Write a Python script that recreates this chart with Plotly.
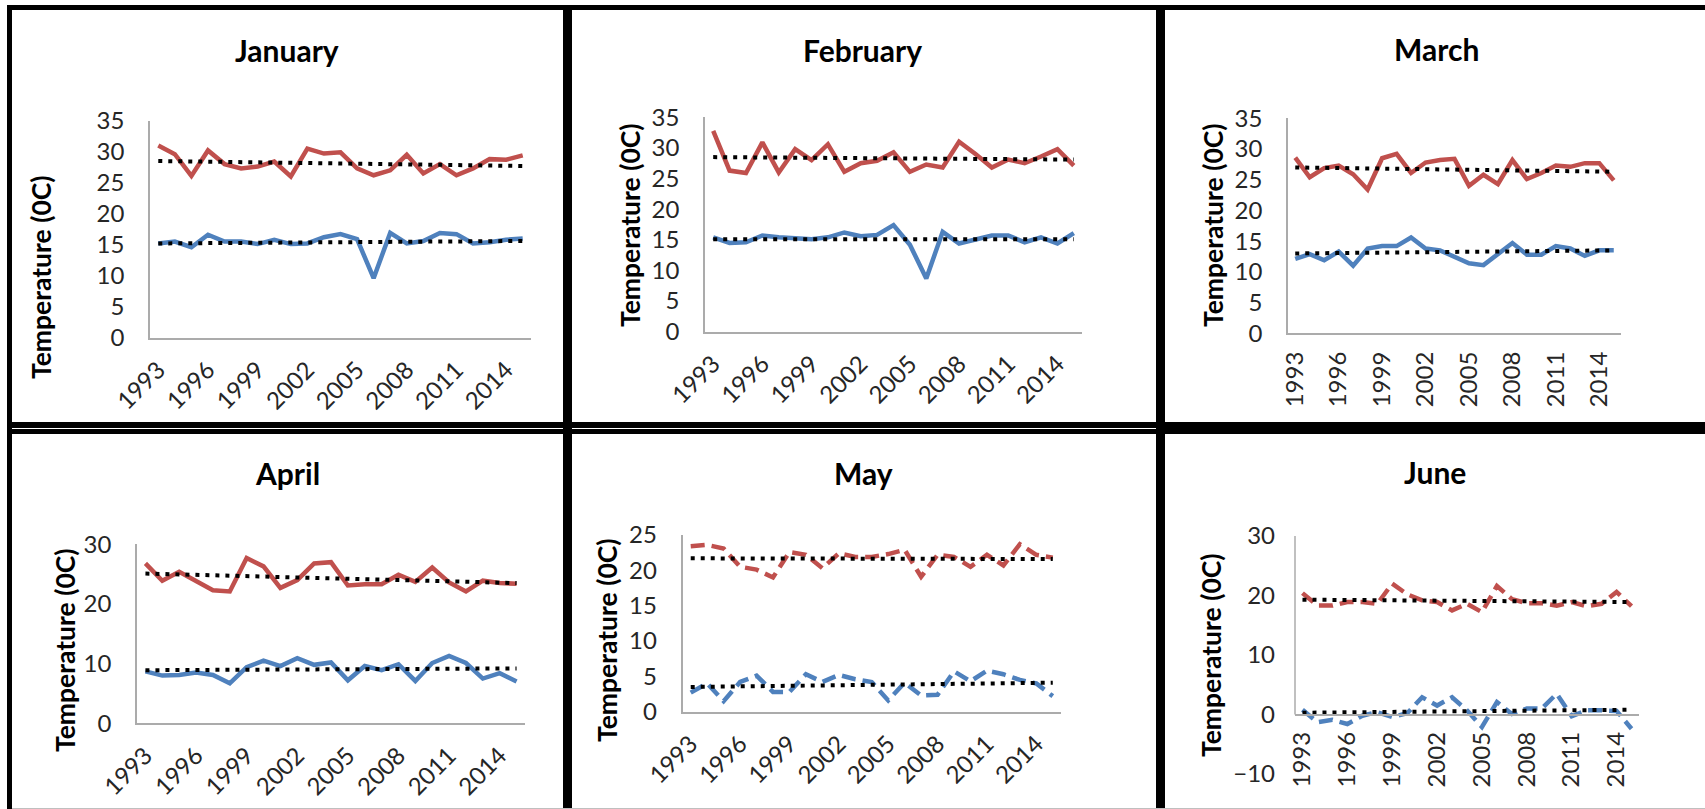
import plotly.graph_objects as go

# ---------------------------------------------------------------------------
# Monthly maximum / minimum temperature series, 1993-2015
# ---------------------------------------------------------------------------
years = ["1993", "1994", "1995", "1996", "1997", "1998", "1999", "2000",
         "2001", "2002", "2003", "2004", "2005", "2006", "2007", "2008",
         "2009", "2010", "2011", "2012", "2013", "2014", "2015"]
tick_years = ["1993", "1996", "1999", "2002", "2005", "2008", "2011", "2014"]

jan_max = [31.0, 29.6, 26.1, 30.2, 28.0, 27.3, 27.6, 28.4, 26.0, 30.5, 29.7, 29.9,
           27.3, 26.2, 27.0, 29.5, 26.5, 28.0, 26.2, 27.3, 28.8, 28.7, 29.4]
jan_min = [15.2, 15.5, 14.6, 16.6, 15.5, 15.5, 15.1, 15.8, 15.1, 15.2, 16.2, 16.7,
           15.9, 9.6, 16.9, 15.2, 15.6, 16.9, 16.7, 15.2, 15.4, 15.8, 16.0]
jan_max_trend = [28.5, 27.7]
jan_min_trend = [15.2, 15.6]

feb_max = [32.8, 26.3, 25.9, 30.9, 26.0, 29.8, 28.0, 30.6, 26.1, 27.5, 27.9, 29.3,
           26.1, 27.3, 26.8, 31.0, 29.0, 26.8, 28.1, 27.5, 28.6, 29.8, 27.1]
feb_min = [15.4, 14.5, 14.6, 15.7, 15.4, 15.2, 15.1, 15.4, 16.2, 15.6, 15.8, 17.4,
           14.2, 8.7, 16.3, 14.4, 15.0, 15.7, 15.7, 14.6, 15.4, 14.4, 16.1]
feb_max_trend = [28.5, 28.1]
feb_min_trend = [15.1, 15.1]

mar_max = [28.6, 25.4, 26.9, 27.3, 25.9, 23.4, 28.5, 29.2, 26.1, 27.8, 28.2, 28.4,
           24.0, 25.8, 24.3, 28.2, 25.1, 26.1, 27.3, 27.1, 27.7, 27.7, 24.9]
mar_min = [12.1, 12.9, 11.9, 13.3, 11.0, 13.8, 14.2, 14.2, 15.6, 13.8, 13.5, 12.5,
           11.4, 11.1, 12.8, 14.7, 12.8, 12.8, 14.2, 13.8, 12.6, 13.5, 13.5]
mar_max_trend = [27.0, 26.3]
mar_min_trend = [13.0, 13.5]

apr_max = [26.8, 23.9, 25.4, 23.9, 22.3, 22.1, 27.7, 26.3, 22.7, 24.0, 26.8, 27.0,
           23.1, 23.3, 23.3, 24.9, 23.7, 26.1, 23.6, 22.1, 23.9, 23.5, 23.4]
apr_min = [8.7, 8.0, 8.1, 8.5, 8.1, 6.7, 9.4, 10.5, 9.6, 10.9, 9.8, 10.2,
           7.2, 9.6, 8.9, 9.9, 7.1, 10.1, 11.3, 10.1, 7.5, 8.4, 7.0]
apr_max_trend = [25.1, 23.5]
apr_min_trend = [8.9, 9.2]

may_max = [23.4, 23.6, 23.1, 20.5, 20.1, 19.0, 22.6, 22.2, 20.3, 22.4, 21.9, 21.9,
           22.3, 22.9, 19.1, 22.2, 21.9, 20.5, 22.2, 20.7, 23.7, 22.2, 21.8]
may_min = [2.7, 4.0, 1.5, 4.2, 5.1, 2.8, 2.8, 5.3, 4.2, 5.2, 4.6, 4.2,
           1.6, 4.1, 2.3, 2.4, 5.7, 4.3, 5.8, 5.3, 4.5, 4.0, 2.2]
may_max_trend = [21.7, 21.6]
may_min_trend = [3.5, 4.1]

jun_max = [20.4, 18.3, 18.3, 18.9, 18.9, 18.6, 22.0, 20.2, 19.2, 18.9, 17.5, 18.6,
           17.2, 21.6, 19.4, 18.7, 18.7, 18.3, 18.9, 18.2, 18.6, 20.6, 18.2]
jun_min = [0.8, -1.3, -0.9, -1.6, -0.2, 0.4, -0.4, 0.2, 2.9, 1.5, 2.9, 0.7,
           -2.1, 2.1, 0.1, 1.0, 1.0, 3.5, -0.3, 0.7, 0.7, 0.6, -2.4]
jun_max_trend = [19.3, 18.9]
jun_min_trend = [0.3, 0.8]

# ---------------------------------------------------------------------------
# Page geometry (pixels) and styling
# ---------------------------------------------------------------------------
W, H = 1705, 809
RED = "#C0504D"
BLUE = "#4F81BD"
AXIS_GRAY = "#ABABAB"
FONT = "Lato"


def fx(px):
    return px / W


def fy(py):
    return 1 - py / H


panels = [
    dict(title="January", hi=jan_max, lo=jan_min, hi_tr=jan_max_trend, lo_tr=jan_min_trend,
         yrange=[0, 35], dtick=5, dash="solid", angle=-45,
         plot=(150, 531, 120.7, 337.7), title_at=(287, 50), ytitle_at=(41, 277)),
    dict(title="February", hi=feb_max, lo=feb_min, hi_tr=feb_max_trend, lo_tr=feb_min_trend,
         yrange=[0, 35], dtick=5, dash="solid", angle=-45,
         plot=(705, 1082, 117.3, 331.7), title_at=(863, 50), ytitle_at=(630, 225)),
    dict(title="March", hi=mar_max, lo=mar_min, hi_tr=mar_max_trend, lo_tr=mar_min_trend,
         yrange=[0, 35], dtick=5, dash="solid", angle=-90,
         plot=(1288, 1621, 118.3, 333.3), title_at=(1436, 48.5), ytitle_at=(1213, 225)),
    dict(title="April", hi=apr_max, lo=apr_min, hi_tr=apr_max_trend, lo_tr=apr_min_trend,
         yrange=[0, 30], dtick=10, dash="solid", angle=-45,
         plot=(137, 525, 544.3, 723.3), title_at=(287, 473), ytitle_at=(65, 650)),
    dict(title="May", hi=may_max, lo=may_min, hi_tr=may_max_trend, lo_tr=may_min_trend,
         yrange=[0, 25], dtick=5, dash="14px,7px", angle=-45,
         plot=(682.5, 1061, 535, 711.7), title_at=(863.5, 473), ytitle_at=(607, 640)),
    dict(title="June", hi=jun_max, lo=jun_min, hi_tr=jun_max_trend, lo_tr=jun_min_trend,
         yrange=[-10, 30], dtick=10, dash="14px,7px", angle=-90,
         plot=(1295, 1639, 536, 774), title_at=(1435, 471.5), ytitle_at=(1211, 655)),
]

fig = go.Figure()
annotations = []
shapes = []
ytick_font = dict(family=FONT, size=24, color="#262626")
xtick_font = dict(family=FONT, size=24, color="#262626")

for i, p in enumerate(panels, start=1):
    xa = "x" if i == 1 else f"x{i}"
    ya = "y" if i == 1 else f"y{i}"
    x0, x1, yt, yb = p["plot"]
    trend_x = [years[0], years[-1]]

    for vals, color in ((p["hi"], RED), (p["lo"], BLUE)):
        fig.add_trace(go.Scatter(
            x=years, y=vals, mode="lines", xaxis=xa, yaxis=ya, showlegend=False,
            line=dict(color=color, width=4.5, dash=p["dash"]),
        ))
    for tr in (p["hi_tr"], p["lo_tr"]):
        fig.add_trace(go.Scatter(
            x=trend_x, y=tr, mode="lines", xaxis=xa, yaxis=ya, showlegend=False,
            line=dict(color="black", width=4, dash="4px,6px"),
        ))

    ymin, ymax = p["yrange"]
    crosses_zero = ymin < 0
    xaxis = dict(
        domain=[fx(x0), fx(x1)], type="category", range=[-0.5, len(years) - 0.5],
        tickmode="array", tickvals=tick_years, ticktext=tick_years,
        tickangle=p["angle"], tickfont=xtick_font, ticks="", ticklabelstandoff=7,
        showline=True, linecolor=AXIS_GRAY, linewidth=1.5, showgrid=False,
        zeroline=False, fixedrange=True, automargin=False,
    )
    if crosses_zero:
        zero_px = yb - (0 - ymin) / (ymax - ymin) * (yb - yt)
        xaxis.update(anchor="free", position=fy(zero_px))
    else:
        xaxis.update(anchor=ya)
    yaxis = dict(
        domain=[fy(yb), fy(yt)], range=p["yrange"], dtick=p["dtick"],
        tickfont=ytick_font, ticks="", ticklabelstandoff=19, anchor=xa,
        showline=not crosses_zero, linecolor=AXIS_GRAY, linewidth=1.5,
        showgrid=False, zeroline=False, fixedrange=True, automargin=False,
    )
    fig.update_layout({("xaxis" if i == 1 else f"xaxis{i}"): xaxis,
                       ("yaxis" if i == 1 else f"yaxis{i}"): yaxis})
    if crosses_zero:
        # value axis drawn only over the non-negative part
        shapes.append(dict(type="line", xref=f"{xa} domain", x0=0, x1=0,
                           yref=ya, y0=0, y1=ymax,
                           line=dict(color=AXIS_GRAY, width=1.5)))

    annotations.append(dict(
        text=f"<b>{p['title']}</b>", x=fx(p["title_at"][0]), y=fy(p["title_at"][1]),
        xref="paper", yref="paper", showarrow=False, xanchor="center", yanchor="middle",
        font=dict(family=FONT, size=30, color="black"),
    ))
    annotations.append(dict(
        text="<b>Temperature (0C)</b>", x=fx(p["ytitle_at"][0]), y=fy(p["ytitle_at"][1]),
        xref="paper", yref="paper", showarrow=False, textangle=-90,
        xanchor="center", yanchor="middle",
        font=dict(family=FONT, size=26.5, color="black"),
    ))


def hline(y, xa, xb, width, color="black"):
    shapes.append(dict(type="line", xref="paper", yref="paper",
                       x0=fx(xa), x1=fx(xb), y0=fy(y), y1=fy(y),
                       line=dict(color=color, width=width)))


def vline(x, ya, yb, width, color="black"):
    shapes.append(dict(type="line", xref="paper", yref="paper",
                       x0=fx(x), x1=fx(x), y0=fy(ya), y1=fy(yb),
                       line=dict(color=color, width=width)))


# panel frames
hline(7.5, 7, W, 5)
hline(428, 7, W, 12)
hline(428.5, 12, 1160, 1, "white")
vline(9.5, 5, H, 5)
vline(567.5, 5, H, 9)
vline(1160.5, 5, H, 9)
hline(808.5, 12, W, 1, "#BFBFBF")

fig.update_layout(
    width=W, height=H, margin=dict(l=0, r=0, t=0, b=0, autoexpand=False),
    paper_bgcolor="white", plot_bgcolor="white",
    annotations=annotations, shapes=shapes, showlegend=False,
    font=dict(family=FONT),
)

fig.write_html("out.html")
